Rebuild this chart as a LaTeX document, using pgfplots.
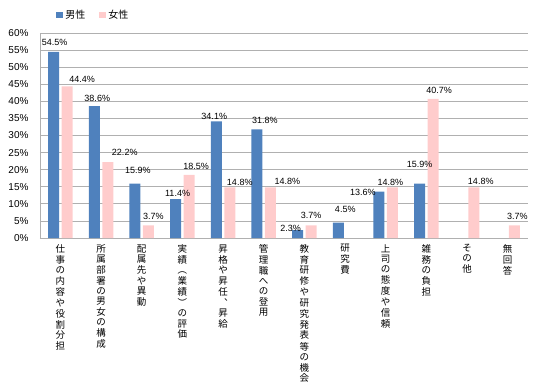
\documentclass[border=0pt]{standalone}
\usepackage{pgfplots}
\pgfplotsset{compat=1.18}
\usepackage{pgfplotstable}
\usepackage{fontspec}
\setmainfont{Liberation Sans}
\newfontfamily\cjk{Noto Sans CJK JP}
\definecolor{mblue}{HTML}{4F81BD}
\definecolor{fpink}{HTML}{FFCCCC}
\definecolor{gridc}{HTML}{B0B0B0}
\newcommand\vt[1]{{\cjk\fontsize{9.5}{10}\selectfont\begin{tabular}[t]{@{}c@{}}#1\end{tabular}}}

\pgfplotstableread{
x y dx dy
0 54.5 1 4
1 38.6 3 2
2 15.9 3 8
3 11.4 2 0
4 34.1 -2 0
5 31.8 8 4
6 2.3 -7 -4
7 4.5 7 8
8 13.6 -16 -6
9 15.9 0 14
}\male

\pgfplotstableread{
x y dx dy
0 44.4 15 2
1 22.2 17 4
2 3.7 5 4
3 18.5 7 3
4 14.8 10 0
5 14.8 17 1
6 3.7 0 5
8 14.8 -2 0
9 40.7 6 3
10 14.8 7 1
11 3.7 3 4
}\female

\begin{document}
\begin{tikzpicture}
\path (0,0) rectangle (546pt,382pt);
\begin{axis}[
  at={(40pt,144pt)}, anchor=south west,
  scale only axis, width=488pt, height=205pt,
  ybar=2.5pt, bar width=11pt,
  xmin=-0.5, xmax=11.5, ymin=0, ymax=60,
  ytick={0,5,...,60},
  yticklabel={\pgfmathprintnumber{\tick}\%},
  yticklabel style={font=\fontsize{10}{12}\selectfont, xshift=-8pt},
  /pgf/number format/assume math mode=true,
  xtick={0,...,11},
  xticklabels={
    {\vt{仕\\事\\の\\内\\容\\や\\役\\割\\分\\担}},
    {\vt{所\\属\\部\\署\\の\\男\\女\\の\\構\\成}},
    {\vt{配\\属\\先\\や\\異\\動}},
    {\vt{実\\績\\︵\\業\\績\\︶\\の\\評\\価}},
    {\vt{昇\\格\\や\\昇\\任\\︑\\昇\\給}},
    {\vt{管\\理\\職\\へ\\の\\登\\用}},
    {\vt{教\\育\\研\\修\\や\\研\\究\\発\\表\\等\\の\\機\\会}},
    {\vt{研\\究\\費}},
    {\vt{上\\司\\の\\態\\度\\や\\信\\頼}},
    {\vt{雑\\務\\の\\負\\担}},
    {\vt{そ\\の\\他}},
    {\vt{無\\回\\答}}
  },
  xticklabel style={anchor=north, yshift=-3pt},
  major tick length=0pt,
  ymajorgrids, grid style={gridc, line width=0.8pt},
  axis x line*=bottom, axis y line*=left,
  axis line style={gridc, line width=0.8pt, -},
  legend style={at={(0.027,1.09)}, anchor=west, draw=none, fill=none,
    legend columns=2, font=\cjk\fontsize{10}{12}\selectfont,
    /tikz/every even column/.append style={column sep=12pt}},
  legend image code/.code={\fill[#1] (0pt,-3pt) rectangle (7pt,3pt);},
]
\addplot[fill=mblue, draw=none,
  nodes near coords={\pgfmathprintnumber[fixed,precision=1,fixed zerofill]{\pgfplotspointmeta}\%},
  visualization depends on={\thisrow{dx}\as\dx},
  visualization depends on={\thisrow{dy}\as\dy},
  every node near coord/.append style={font=\fontsize{9}{10}\selectfont, text=black, inner sep=2pt, xshift=\dx, yshift=\dy},
  ] table[x=x,y=y] {\male};
\addplot[fill=fpink, draw=none,
  nodes near coords={\pgfmathprintnumber[fixed,precision=1,fixed zerofill]{\pgfplotspointmeta}\%},
  visualization depends on={\thisrow{dx}\as\dx},
  visualization depends on={\thisrow{dy}\as\dy},
  every node near coord/.append style={font=\fontsize{9}{10}\selectfont, text=black, inner sep=2pt, xshift=\dx, yshift=\dy},
  ] table[x=x,y=y] {\female};
\legend{男性,女性}
\end{axis}
\end{tikzpicture}
\end{document}
